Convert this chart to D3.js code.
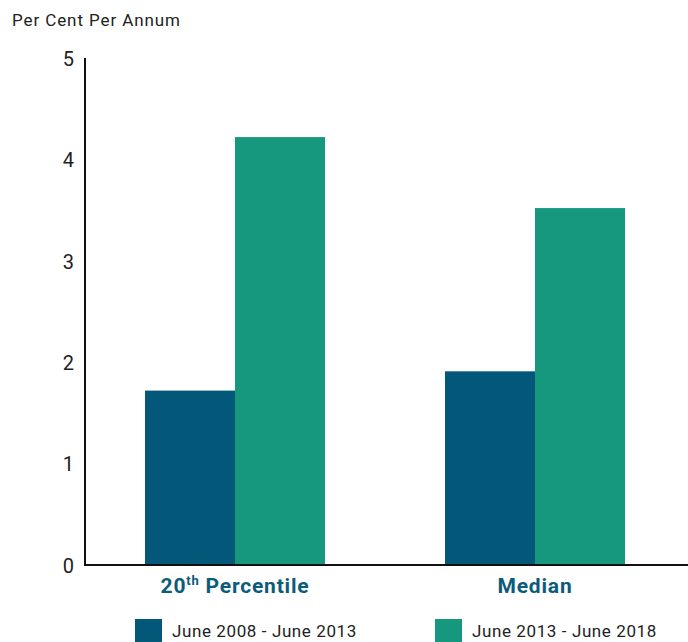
<!DOCTYPE html>
<html>
<head>
<meta charset="utf-8">
<script src="https://cdn.jsdelivr.net/npm/d3@7"></script>
<style>
  body { margin: 0; background: #fff; }
  text { font-family: Roboto, "DejaVu Sans", sans-serif; }
</style>
</head>
<body>
<div id="chart"></div>
<script>
// data
const categories = ["20th Percentile", "Median"];
const seriesNames = ["June 2008 - June 2013", "June 2013 - June 2018"];
const series2008 = [1.72, 1.91];
const series2013 = [4.22, 3.52];
const yTicks = [0, 1, 2, 3, 4, 5];

const colors = ["#03587a", "#16987f"];

const width = 688, height = 642;
const margin = {top: 58, right: 3, bottom: 77, left: 85};

const svg = d3.select("#chart").append("svg")
    .attr("width", width)
    .attr("height", height);

const x = d3.scaleBand()
    .domain(categories)
    .range([margin.left, width - margin.right])
    .paddingInner(0.4)
    .paddingOuter(0.2);

const xSub = d3.scaleBand()
    .domain([0, 1])
    .range([0, x.bandwidth()]);

const y = d3.scaleLinear()
    .domain([0, 5])
    .range([height - margin.bottom, margin.top]);

const rows = categories.map((c, i) => ({cat: c, vals: [series2008[i], series2013[i]]}));

// bars
const g = svg.append("g");
rows.forEach(r => {
    g.selectAll(null)
        .data(r.vals)
        .enter().append("rect")
        .attr("x", (d, j) => x(r.cat) + xSub(j))
        .attr("y", d => y(d))
        .attr("width", xSub.bandwidth())
        .attr("height", d => y(0) - y(d))
        .attr("fill", (d, j) => colors[j]);
});

// y axis
const yAxis = svg.append("g")
    .attr("transform", `translate(${margin.left},0)`)
    .call(d3.axisLeft(y).tickValues(yTicks).tickSize(0).tickPadding(11).tickFormat(d3.format("d")));
yAxis.select(".domain").attr("stroke", "#111").attr("stroke-width", 2)
    .attr("d", `M0,${y(5)}V${y(0)}`);
yAxis.selectAll("text")
    .attr("font-size", 20)
    .attr("fill", "#222")
    .attr("dy", "0.36em")
    .style("font-family", "Roboto, sans-serif");

// x axis line
svg.append("line")
    .attr("x1", margin.left - 1)
    .attr("x2", width)
    .attr("y1", y(0))
    .attr("y2", y(0))
    .attr("stroke", "#111")
    .attr("stroke-width", 2);

// category labels
const labels = svg.append("g").selectAll("text")
    .data(categories)
    .enter().append("text")
    .attr("x", d => x(d) + x.bandwidth() / 2)
    .attr("y", y(0) + 28)
    .attr("text-anchor", "middle")
    .attr("font-size", 21)
    .attr("letter-spacing", 0.8)
    .attr("font-weight", "bold")
    .attr("fill", "#0c5b79");
labels.each(function(d) {
    const t = d3.select(this);
    if (d.startsWith("20th")) {
        t.append("tspan").text("20");
        t.append("tspan").text("th").attr("font-size", 13).attr("dy", -8);
        t.append("tspan").text(" Percentile").attr("dy", 8);
    } else {
        t.text(d);
    }
});

// title
svg.append("text")
    .attr("x", 12)
    .attr("y", 26)
    .attr("font-size", 17)
    .attr("letter-spacing", 0.9)
    .attr("fill", "#222")
    .text("Per Cent Per Annum");

// legend
const legendX = [135, 435];
const legend = svg.append("g").selectAll("g")
    .data(seriesNames)
    .enter().append("g")
    .attr("transform", (d, i) => `translate(${legendX[i]},619)`);
legend.append("rect")
    .attr("width", 27)
    .attr("height", 23)
    .attr("fill", (d, i) => colors[i]);
legend.append("text")
    .attr("x", 37)
    .attr("y", 18)
    .attr("font-size", 17)
    .attr("letter-spacing", 0.6)
    .attr("fill", "#222")
    .text(d => d);
</script>
</body>
</html>
